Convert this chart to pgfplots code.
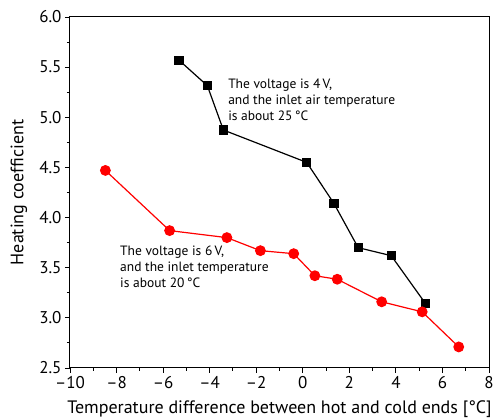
\documentclass[border=0pt]{standalone}
\usepackage{pgfplots}
\pgfplotsset{compat=1.18}
\usepackage{fontspec}
\setmainfont{PT Sans}
\begin{document}
\begin{tikzpicture}
\begin{axis}[
  scale only axis, width=419pt, height=351pt,
  xmin=-10, xmax=8, ymin=2.5, ymax=6.0,
  xtick={-10,-8,-6,-4,-2,0,2,4,6,8},
  xticklabels={–10,–8,–6,–4,–2,0,2,4,6,8},
  ytick={2.5,3.0,3.5,4.0,4.5,5.0,5.5,6.0},
  yticklabels={2.5,3.0,3.5,4.0,4.5,5.0,5.5,6.0},
  minor x tick num=1, minor y tick num=1,
  tick align=outside, xtick pos=bottom, ytick pos=left,
  major tick length=5pt, minor tick length=3pt,
  every tick/.style={line width=0.9pt, black},
  axis line style={line width=1pt},
  tick label style={font=\fontsize{17}{19}\selectfont},
  xlabel={Temperature difference between hot and cold ends [°C]},
  ylabel={Heating coefficient},
  label style={font=\fontsize{18}{20}\selectfont},
  xlabel style={at={(axis description cs:0.5,-0.1168)}, anchor=center},
  ylabel style={at={(axis description cs:-0.1217,0.5)}, anchor=center},
  clip=false,
]
\addplot[black, line width=1.2pt, mark=square*, mark size=4pt] coordinates {
(-5.32,5.57) (-4.10,5.315) (-3.41,4.873) (0.17,4.55) (1.34,4.14) (2.38,3.70) (3.80,3.62) (5.28,3.14)};
\addplot[red, line width=1.2pt, mark=*, mark size=4.8pt] coordinates {
(-8.48,4.47) (-5.72,3.87) (-3.26,3.80) (-1.82,3.67) (-0.39,3.64) (0.52,3.42) (1.48,3.385) (3.39,3.16) (5.13,3.06) (6.70,2.71)};
\node[anchor=west, align=left, font=\fontsize{13.5}{16}\selectfont, inner sep=0pt] at (axis cs:-3.21,5.17) {The voltage is 4\,V,\\and the inlet air temperature\\is about 25\,°C};
\node[anchor=west, align=left, font=\fontsize{13.5}{16}\selectfont, inner sep=0pt] at (axis cs:-7.85,3.51) {The voltage is 6\,V,\\and the inlet temperature\\is about 20\,°C};
\coordinate (ll) at (rel axis cs:0,0);
\coordinate (ur) at (rel axis cs:1,1);
\end{axis}
\pgfresetboundingbox
\useasboundingbox ([shift={(-70pt,-51pt)}]ll) rectangle ([shift={(7pt,17pt)}]ur);
\end{tikzpicture}
\end{document}
